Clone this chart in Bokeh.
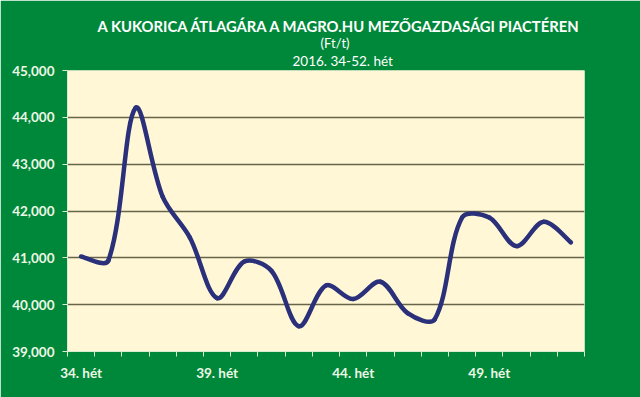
from bokeh.plotting import figure
from bokeh.models import FixedTicker, NumeralTickFormatter, Title, Range1d
from bokeh.embed import file_html
from bokeh.resources import INLINE
import math

weeks = [34, 35, 36, 37, 38, 39, 40, 41, 42, 43, 44, 45, 46, 47, 48, 49, 50, 51, 52]
prices = [41030, 40940, 44200, 42300, 41430, 40140, 40920, 40720, 39540, 40410,
          40120, 40490, 39820, 39690, 41860, 41860, 41250, 41770, 41330]
label_weeks = [34, 39, 44, 49]
y_ticks = [39000, 40000, 41000, 42000, 43000, 44000, 45000]
title_text = "A KUKORICA ÁTLAGÁRA A MAGRO.HU MEZŐGAZDASÁGI PIACTÉREN"
unit_text = "(Ft/t)"
period_text = "2016. 34-52. hét"

GREEN = "#00883a"
PLOT_BG = "#fff7d6"
LINE = "#2a3079"
GRID = "#67644a"
TXT = "#eef7e6"
AXIS = "#d9ecd0"
FONT = "Lato"

W, H = 640, 397
ML, MR, MT, MB = 67, 56, 70, 46
p = figure(width=W, height=H, output_backend="svg", toolbar_location=None,
           x_range=Range1d(weeks[0] - 0.5, weeks[-1] + 0.5),
           y_range=Range1d(y_ticks[0], y_ticks[-1]),
           min_border_left=ML, min_border_right=MR, min_border_top=MT, min_border_bottom=MB)
p.background_fill_color = PLOT_BG
p.border_fill_color = GREEN
p.outline_line_color = None

# smooth line (Excel-like): cubic segments through the data points,
# control offsets weighted by segment lengths measured on screen
sx = (W - ML - MR) / (len(weeks))
sy = (H - MT - MB) / (y_ticks[-1] - y_ticks[0])
n = len(weeks)
def dist(a, b):
    return math.hypot((weeks[b] - weeks[a]) * sx, (prices[b] - prices[a]) * sy)
x0, y0, x1, y1, cx0, cy0, cx1, cy1 = [], [], [], [], [], [], [], []
for i in range(n - 1):
    im = max(i - 1, 0)
    ip = min(i + 2, n - 1)
    d = dist(i, i + 1)
    dp = dist(im, i)
    fa = d / (3 * (dp + d)) if i > 0 else 1 / 6
    dn = dist(i + 1, ip)
    fb = d / (3 * (d + dn)) if i + 1 < n - 1 else 1 / 6
    x0.append(weeks[i]); y0.append(prices[i])
    x1.append(weeks[i + 1]); y1.append(prices[i + 1])
    cx0.append(weeks[i] + (weeks[i + 1] - weeks[im]) * fa)
    cy0.append(prices[i] + (prices[i + 1] - prices[im]) * fa)
    cx1.append(weeks[i + 1] - (weeks[ip] - weeks[i]) * fb)
    cy1.append(prices[i + 1] - (prices[ip] - prices[i]) * fb)
p.bezier(x0=x0, y0=y0, x1=x1, y1=y1, cx0=cx0, cy0=cy0, cx1=cx1, cy1=cy1,
         line_color=LINE, line_width=4.5, line_cap="round")

# axes
p.xaxis.ticker = FixedTicker(ticks=label_weeks,
                             minor_ticks=[w - 0.5 for w in weeks] + [weeks[-1] + 0.5])
p.xaxis.major_label_overrides = {w: f"{w}. hét" for w in label_weeks}
p.xaxis.major_tick_line_color = None
p.xaxis.minor_tick_in = 0
p.xaxis.minor_tick_out = 5
p.xaxis.minor_tick_line_color = AXIS
p.xaxis.axis_line_color = AXIS
p.xaxis.major_label_text_font = FONT
p.xaxis.major_label_text_font_style = "bold"
p.xaxis.major_label_text_font_size = "13.5px"
p.xaxis.major_label_text_color = TXT
p.xaxis.major_label_standoff = 7

p.yaxis.ticker = FixedTicker(ticks=y_ticks)
p.yaxis.formatter = NumeralTickFormatter(format="0,0")
p.yaxis.minor_tick_line_color = None
p.yaxis.major_tick_in = 0
p.yaxis.major_tick_out = 5
p.yaxis.major_tick_line_color = AXIS
p.yaxis.axis_line_color = AXIS
p.yaxis.major_label_text_font = FONT
p.yaxis.major_label_text_font_style = "bold"
p.yaxis.major_label_text_font_size = "13.5px"
p.yaxis.major_label_text_color = TXT
p.yaxis.major_label_standoff = 8

p.xgrid.grid_line_color = None
p.ygrid.grid_line_color = GRID
p.ygrid.grid_line_width = 1.5

# titles: added ones stack outward from the frame, p.title is outermost
p.add_layout(Title(text=period_text, align="left", offset=225, standoff=3,
                   text_font=FONT, text_font_size="13.5px", text_font_style="normal",
                   text_color="#ffffff"), "above")
p.add_layout(Title(text=unit_text, align="left", offset=253, standoff=-2,
                   text_font=FONT, text_font_size="13px", text_font_style="normal",
                   text_color="#ffffff"), "above")
p.title.text = title_text
p.title.align = "left"
p.title.offset = 30
p.title.standoff = -3
p.title.text_font = FONT
p.title.text_font_size = "14.8px"
p.title.text_font_style = "bold"
p.title.text_color = "#ffffff"

html = file_html(p, INLINE)
html = html.replace("<body>", '<body style="background:%s">' % GREEN, 1)
open("out.html", "w").write(html)
